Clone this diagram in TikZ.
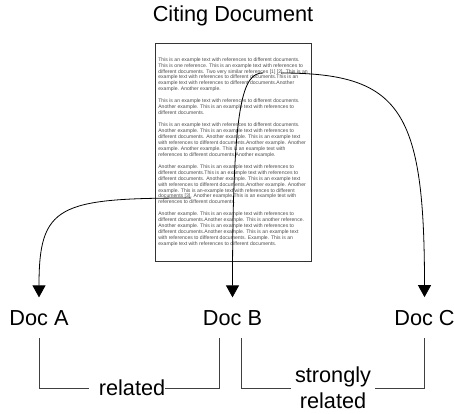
\documentclass[tikz,border=0pt]{standalone}
\usepackage{fontspec}
\setmainfont{Liberation Sans}
\usetikzlibrary{arrows.meta}

\begin{document}
\begin{tikzpicture}[x=1pt,y=1pt]
                \tikzstyle{every node}+=[inner sep=0pt]
                \tikzstyle{big}=[font=\fontsize{21.7}{26}\selectfont]
                \tikzstyle{doc}=[big,anchor=base,inner sep=12.5pt]
                \tikzstyle{sheet}=[draw=black!80,line width=0.8pt,minimum width=156pt,minimum height=218pt,align=left,text=black!70,font=\fontsize{5.1}{5.95}\selectfont]
                \tikzstyle{cite}=[black,line width=0.8pt,-{Triangle[width=13pt,length=12pt]}]
                \tikzstyle{brace}=[black!75,line width=0.8pt]
                \useasboundingbox (0,0) rectangle (454,-413);
                \draw (233,-21) node [big,anchor=base] (title) {Citing Document};
                \node [sheet] (page) at (233,-152) {%
This is an example text with references to different documents.\\
This is one reference. This is an example text with references to\\
different documents. Two very similar references [1] [2]. This is an\\
example text with references to different documents.This is an\\
example text with references to different documents.Another\\
example. Another example.\\[5.95pt]
This is an example text with references to different documents.\\
Another example. This is an example text with references to\\
different documents.\\[5.95pt]
This is an example text with references to different documents.\\
Another example. This is an example text with references to\\
different documents. Another example. This is an example text\\
with references to different documents.Another example. Another\\
example. Another example. This is an example text with\\
references to different documents.Another example.\\[5.95pt]
Another example. This is an example text with references to\\
different documents.This is an example text with references to\\
different documents. Another example. This is an example text\\
with references to different documents.Another example. Another\\
example. This is an-example text with references to different\\
documents [3]. Another example.This is an example text with\\
references to different documents.\\[5.95pt]
Another example. This is an example text with references to\\
different documents.Another example. This is another reference.\\
Another example. This is an example text with references to\\
different documents.Another example. This is an example text\\
with references to different documents. Example. This is an\\
example text with references to different documents.};
                \draw (39,-325) node [doc] (docA) {Doc A};
                \draw (232.5,-325) node [doc] (docB) {Doc B};
                \draw (424.5,-325) node [doc] (docC) {Doc C};
                \draw (132,-388) node [big] (relAB) {related};
                \draw (333,-388) node [big,align=center] (relBC) {strongly\\related};
                \coordinate (refA) at (191,-198);
                \coordinate (refB) at (263,-73);
                \coordinate (refC) at (281,-73);
                \draw [cite] (refB) to [out=180,in=90,out distance=20pt,in distance=197pt] (docB);
                \draw [cite] (refC) to [out=0,in=90,out distance=120pt,in distance=187pt] (docC);
                \draw [cite] (refA) to [out=180,in=90,out distance=133pt,in distance=92pt] (docA);
                \draw [brace] (docA.south) |- ([xshift=-10pt]relAB.west);
                \draw [brace] (relAB.east) -| ([xshift=-13.5pt]docB.south);
                \draw [brace] ([xshift=8.5pt]docB.south) |- ([xshift=-4pt]relBC.west);
                \draw [brace] ([xshift=4pt]relBC.east) -| (docC.south);
\end{tikzpicture}
\end{document}
